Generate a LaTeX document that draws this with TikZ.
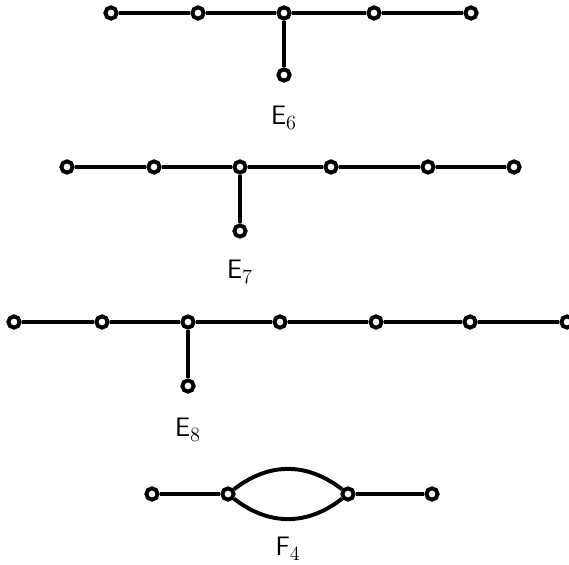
\documentclass[tikz,border=0pt]{standalone}
\usepackage{tikz}
\usetikzlibrary{positioning}
\tikzset{
  dot/.style={circle,draw=black,fill=white,line width=2.8pt,
              minimum size=8pt,inner sep=0pt},
  bond/.style={line width=2.8pt,draw=black},
  dynname/.style={font=\fontsize{19}{22}\selectfont\sffamily}
}
\begin{document}
\begin{tikzpicture}[x=0.025cm,y=-0.025cm]
    \path[use as bounding box] (0,0) rectangle (569,564);
    % E6
    \node[dot] (ea1) at (111,13) {};
    \node[dot] (ea2) at (198,13) {};
    \node[dot] (ea3) at (284,13) {};
    \node[dot] (ea4) at (374,13) {};
    \node[dot] (ea5) at (471,13) {};
    \node[dot] (ea6) at (284,75) {};
    \draw[bond] (ea1) -- (ea2) -- (ea3) -- (ea4) -- (ea5);
    \draw[bond] (ea3) -- (ea6);
    \node[dynname] (esix) at (284,118) {E$_6$};

    % E7
    \node[dot] (eb1) at (67,167) {};
    \node[dot] (eb2) at (154,167) {};
    \node[dot] (eb3) at (240,167) {};
    \node[dot] (eb4) at (331,167) {};
    \node[dot] (eb5) at (428,167) {};
    \node[dot] (eb6) at (514,167) {};
    \node[dot] (eb7) at (240,231) {};
    \draw[bond] (eb1) -- (eb2) -- (eb3) -- (eb4) -- (eb5) -- (eb6);
    \draw[bond] (eb3) -- (eb7);
    \node[dynname] (eseven) at (240,272) {E$_7$};

    % E8
    \node[dot] (ec1) at (14,322) {};
    \node[dot] (ec2) at (102,322) {};
    \node[dot] (ec3) at (188,322) {};
    \node[dot] (ec4) at (280,322) {};
    \node[dot] (ec5) at (376,322) {};
    \node[dot] (ec6) at (470,322) {};
    \node[dot] (ec7) at (567,322) {};
    \node[dot] (ec8) at (188,386) {};
    \draw[bond] (ec1) -- (ec2) -- (ec3) -- (ec4) -- (ec5) -- (ec6) -- (ec7);
    \draw[bond] (ec3) -- (ec8);
    \node[dynname] (eeight) at (188,430) {E$_8$};

    % F4
    \node[dot] (fa1) at (152,494) {};
    \node[dot] (fa2) at (228,494) {};
    \node[dot] (fa3) at (348,494) {};
    \node[dot] (fa4) at (432,494) {};
    \draw[bond] (fa1) -- (fa2);
    \draw[bond] (fa3) -- (fa4);
    \draw[bond] (fa2) to[out=38,in=142,looseness=1.05] (fa3);
    \draw[bond] (fa2) to[out=-38,in=-142,looseness=1.05] (fa3);
    \node[dynname] (ffour) at (288,549) {F$_4$};
\end{tikzpicture}
\end{document}
